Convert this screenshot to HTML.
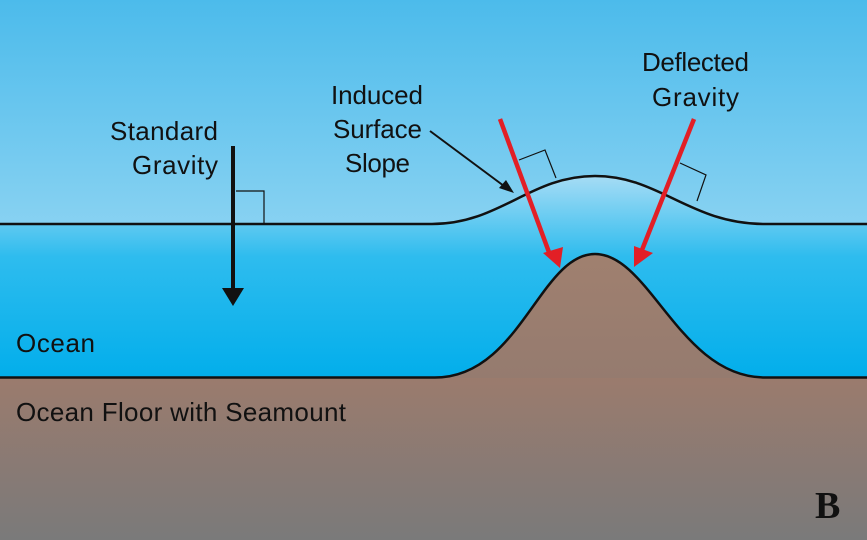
<!DOCTYPE html>
<html><head><style>body{margin:0}svg{display:block}text{font-family:"Liberation Sans",sans-serif;fill:#111}</style></head><body>
<svg width="867" height="540" viewBox="0 0 867 540" xmlns="http://www.w3.org/2000/svg">
<defs>
<linearGradient id="sky" x1="0" y1="0" x2="0" y2="1"><stop offset="0" stop-color="#4cbbeb"/><stop offset="1" stop-color="#dbf1fb"/></linearGradient>
<linearGradient id="sea" x1="0" y1="0" x2="0" y2="1"><stop offset="0" stop-color="#a6dcf5"/><stop offset="0.4" stop-color="#2ebcee"/><stop offset="1" stop-color="#02aeeb"/></linearGradient>
<linearGradient id="floor" x1="0" y1="0" x2="0" y2="1"><stop offset="0" stop-color="#9b7b6d"/><stop offset="1" stop-color="#7a7a7a"/></linearGradient>
<linearGradient id="mount" x1="0" y1="0" x2="0" y2="1"><stop offset="0" stop-color="#a0806f"/><stop offset="1" stop-color="#957b6f"/></linearGradient>
</defs>
<rect width="867" height="540" fill="url(#sky)"/>
<path d="M0 224 L432 224 C500 224 530 176 595 176 C660 176 690 224 765 224 L867 224 L867 378 L0 378Z" fill="url(#sea)"/>
<rect y="377" width="867" height="163" fill="url(#floor)"/>
<path d="M435 378 C520 378 540 254 595 254 C650 254 680 378 765 378Z" fill="url(#mount)"/>
<path d="M0 224 L432 224 C500 224 530 176 595 176 C660 176 690 224 765 224 L867 224" fill="none" stroke="#111" stroke-width="2.5"/>
<path d="M0 377.5 L435 377.5 C520 377.5 540 254 595 254 C650 254 680 377.5 765 377.5 L867 377.5" fill="none" stroke="#111" stroke-width="2.5"/>
<polyline points="236,191 264,191 264,224" fill="none" stroke="#111" stroke-width="1.2"/>
<line x1="233" y1="146" x2="233" y2="292" stroke="#111" stroke-width="4"/>
<polygon points="222,288 244,288 233,306" fill="#111"/>
<polyline points="519,160 545,150 556,178" fill="none" stroke="#111" stroke-width="1.2"/>
<polyline points="680,163 706,175 697,201" fill="none" stroke="#111" stroke-width="1.2"/>
<line x1="430" y1="131" x2="508" y2="189" stroke="#111" stroke-width="2"/>
<polygon points="514,193 499,188 506,180" fill="#111"/>
<line x1="500" y1="119" x2="550" y2="255" stroke="#e21f26" stroke-width="4.5"/>
<polygon points="543,253 563,247 560,268" fill="#e21f26"/>
<line x1="694" y1="119" x2="640" y2="255" stroke="#e21f26" stroke-width="4.5"/>
<polygon points="634,246 653,253 634,267" fill="#e21f26"/>
<g font-size="26">
<text x="110" y="140" textLength="108">Standard</text>
<text x="132" y="174" textLength="86">Gravity</text>
<text x="331" y="104" textLength="92">Induced</text>
<text x="333" y="138" textLength="89">Surface</text>
<text x="345" y="172" textLength="65">Slope</text>
<text x="642" y="71" textLength="107">Deflected</text>
<text x="652" y="106" textLength="87">Gravity</text>
<text x="16" y="352" textLength="79">Ocean</text>
<text x="16" y="421" textLength="330">Ocean Floor with Seamount</text>
</g>
<text x="815" y="518" font-size="38" font-weight="bold" style="font-family:'Liberation Serif',serif" fill="#111">B</text>
</svg>
</body></html>
